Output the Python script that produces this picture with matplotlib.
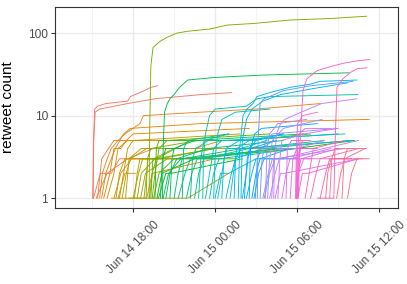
"""Retweet cascades over time, one line per original tweet (log count)."""
import matplotlib
matplotlib.use("Agg")
import matplotlib.dates as mdates
import matplotlib.pyplot as plt
import numpy as np
import pandas as pd

# hours after Jun 14 00:00, cumulative retweet count
early_red_orange = [
    ([15.05, 15.10, 15.18, 15.40, 16.00, 17.60, 17.80, 18.80, 19.30, 19.80], [1, 5, 12, 13, 14, 15, 17, 20, 22, 23]),
    ([15.07, 15.12, 15.22, 15.55, 17.60, 19.60, 23.00, 25.20], [1, 5, 11, 12, 14, 16, 18, 19]),
    ([15.10, 15.60, 16.40, 17.00, 22.00, 29.00], [1, 2, 2, 3, 3, 4]),
    ([15.30, 16.10, 17.60, 19.50], [1, 2, 3, 4]),
    ([15.40, 15.70, 16.20, 16.60, 18.00], [1, 3, 4, 5, 5]),
    ([15.55, 15.75, 16.10, 16.40, 16.90, 17.40, 18.50, 18.75, 22.90, 27.00, 31.70], [1, 2, 3, 4, 5, 6, 8, 10, 11, 12, 14]),
    ([15.70, 16.00, 16.40, 16.70, 17.30, 17.80, 22.90, 35.30], [1, 2, 3, 4, 6, 7, 8, 9]),
    ([15.85, 16.30, 16.60, 17.10, 17.50, 18.00, 26.50], [1, 2, 4, 4, 5, 6, 7]),
    ([16.10, 16.60, 16.90, 17.60, 20.50], [1, 2, 4, 5, 5]),
    ([16.40, 19.00, 19.40, 24.00], [1, 1, 2, 3]),
    ([16.60, 17.10, 17.90, 21.50], [1, 2, 3, 3]),
    ([16.75, 17.00, 17.40, 19.80], [1, 2, 3, 3]),
    ([16.90, 17.40, 18.20], [1, 2, 2]),
]

olive_green = [
    ([17.00, 17.30, 17.60, 18.00, 25.80], [1, 2, 4, 5, 6]),
    ([17.20, 17.50, 17.80, 19.00, 22.50, 24.50], [1, 2, 3, 4, 4, 5]),
    ([17.45, 17.70, 18.60, 31.30], [1, 3, 4, 4]),
    ([17.70, 22.00, 25.00], [1, 1, 2]),
    ([18.00, 18.40, 18.70, 19.50, 21.00], [1, 2, 3, 3, 4]),
    ([18.10, 18.30, 18.50, 21.50], [1, 2, 3, 3]),
    ([18.30, 18.60, 19.60, 24.00], [1, 2, 3, 4]),
    ([18.55, 18.90, 20.50], [1, 2, 3]),
    ([18.80, 19.10, 19.60], [1, 3, 3]),
    ([18.95, 19.05, 19.30, 22.80], [1, 3, 4, 5]),
    ([19.17, 19.22, 19.30, 19.46, 20.00, 20.49, 21.22, 21.95, 23.63, 24.88, 26.90, 29.50, 32.40, 35.10],
     [1, 8, 40, 67, 80, 89, 100, 105, 112, 125, 131, 144, 150, 160]),
    ([19.20, 19.40, 19.70, 22.20, 26.20, 31.00], [1, 2, 3, 5, 5, 6]),
    ([19.30, 19.45, 20.00, 24.00], [1, 3, 3, 4]),
    ([19.40, 19.60, 19.90, 20.50, 28.00], [1, 2, 4, 5, 6]),
    ([19.50, 19.90, 21.00, 25.50], [1, 2, 3, 3]),
    ([19.60, 19.70, 19.90, 23.00], [1, 4, 5, 5]),
    ([19.75, 20.10, 22.50, 30.00, 34.20], [1, 2, 3, 4, 5]),
    ([19.85, 20.40, 20.80, 26.00], [1, 2, 2, 3]),
    ([20.00, 20.15, 20.40, 22.00], [1, 3, 4, 4]),
    ([20.15, 20.20, 20.30, 20.50, 20.70, 21.00, 21.40, 22.00, 24.00, 27.50, 33.80], [1, 4, 11, 14, 16, 18, 22, 27, 29, 31, 33]),
    ([20.20, 20.60, 21.50, 29.00], [1, 2, 3, 4]),
    ([20.40, 20.70, 21.20, 23.50, 29.00], [1, 2, 3, 4, 5]),
    ([20.70, 20.85, 21.00, 22.50, 30.50], [1, 3, 4, 5, 6]),
    ([21.00, 21.30, 21.60, 26.00, 34.20], [1, 2, 3, 4, 5]),
    ([21.30, 21.80, 22.20, 24.50], [1, 2, 3, 3]),
    ([21.60, 21.70, 22.00, 25.00], [1, 4, 5, 6]),
    ([21.90, 22.30, 22.70, 28.50], [1, 2, 3, 4]),
    ([22.20, 22.35, 22.60, 23.50, 27.00], [1, 3, 4, 5, 5]),
    ([22.50, 22.80, 23.20, 26.50, 32.00], [1, 2, 3, 4, 5]),
    ([22.80, 22.95, 23.20, 25.00], [1, 3, 5, 6]),
]

teal_blue = [
    ([23.10, 23.15, 23.30, 23.60, 24.00, 26.30, 26.80, 27.10, 28.00, 34.46], [1, 3, 6, 10, 12, 13, 15, 16, 17, 18]),
    ([23.30, 23.60, 23.90, 24.50, 33.50], [1, 2, 4, 5, 6]),
    ([23.60, 23.90, 24.30, 30.00], [1, 2, 3, 4]),
    ([23.90, 24.00, 24.20, 24.50, 25.50, 28.00], [1, 3, 6, 9, 11, 12]),
    ([24.00, 24.40, 25.00, 27.00], [1, 2, 2, 3]),
    ([24.20, 24.50, 24.80, 25.80, 33.00], [1, 2, 4, 5, 6]),
    ([24.50, 24.65, 24.90, 26.00], [1, 3, 4, 4]),
    ([24.80, 25.20, 25.50, 27.50, 34.00], [1, 2, 3, 4, 5]),
    ([25.10, 25.35, 25.60, 26.50, 29.00], [1, 2, 4, 5, 6]),
    ([25.40, 25.50, 25.90, 27.80], [1, 3, 4, 5]),
    ([25.70, 25.80, 26.05, 26.34, 26.78, 27.07, 28.00, 29.50, 30.95, 31.68, 34.39], [1, 4, 10, 12, 14, 17, 19, 22, 24, 26, 27]),
    ([25.90, 26.00, 26.30, 26.70, 27.50, 28.80, 31.00, 33.73], [1, 5, 9, 12, 15, 18, 21, 25]),
]

blue_purple = [
    ([26.00, 26.30, 26.50, 27.00, 29.00], [1, 2, 4, 5, 6]),
    ([26.15, 26.35, 26.60, 28.50], [1, 3, 4, 5]),
    ([26.30, 26.70, 27.00, 30.00], [1, 2, 3, 3]),
    ([26.50, 26.60, 26.90, 27.40, 31.50], [1, 4, 6, 7, 8]),
    ([26.70, 27.00, 27.30, 29.50], [1, 2, 3, 4]),
    ([26.85, 27.20, 27.60, 29.00], [1, 2, 3, 3]),
    ([26.95, 27.10, 27.40, 28.30], [1, 3, 4, 5]),
    ([27.10, 27.15, 27.30, 27.60, 28.98, 31.00, 34.10], [1, 5, 14, 16, 20, 23, 26]),
    ([27.30, 27.45, 27.70, 28.20, 33.00], [1, 3, 5, 6, 7]),
    ([27.50, 27.90, 28.20, 31.00], [1, 2, 3, 3]),
    ([27.60, 28.00, 28.40, 33.50], [1, 2, 3, 4]),
    ([27.70, 27.80, 28.00, 28.60, 30.70], [1, 4, 6, 8, 9]),
    ([27.85, 28.00, 28.20, 29.00, 31.83], [1, 3, 5, 7, 9]),
    ([28.00, 28.40, 28.70, 32.00, 34.50], [1, 2, 3, 4, 5]),
    ([28.15, 28.30, 28.50, 30.00], [1, 3, 4, 4]),
    ([28.30, 28.35, 28.50, 28.80, 29.10, 30.30, 31.80, 34.39], [1, 3, 6, 8, 9, 11, 14, 16]),
    ([28.40, 28.80, 29.10, 34.50], [1, 2, 2, 3]),
    ([28.60, 28.75, 28.90, 30.50, 33.00], [1, 3, 5, 6, 7]),
    ([28.90, 29.20, 29.50, 32.50], [1, 2, 3, 4]),
    ([29.20, 29.30, 29.60, 30.50], [1, 4, 5, 5]),
    ([29.50, 29.70, 30.00, 32.00], [1, 3, 4, 5]),
    ([29.90, 29.95, 30.05, 30.40, 31.50], [1, 4, 8, 10, 11]),
]

magenta_pink = [
    ([29.92, 30.00, 30.20, 31.50], [1, 3, 4, 4]),
    ([29.95, 30.05, 30.30, 33.00], [1, 2, 3, 4]),
    ([29.98, 30.05, 30.15, 30.60, 32.50], [1, 4, 6, 7, 7]),
    ([30.00, 30.10, 30.50, 34.00], [1, 2, 3, 3]),
    ([30.03, 30.12, 30.40, 31.00], [1, 3, 5, 5]),
    ([30.06, 30.40, 30.80, 34.50], [1, 2, 2, 3]),
    ([30.10, 30.20, 30.44, 30.73, 31.46, 32.41, 33.37, 34.39, 35.34], [1, 4, 20, 28, 35, 39, 43, 46, 48]),
    ([30.60, 30.90, 31.20, 33.50], [1, 2, 4, 5]),
    ([31.00, 31.40, 31.70, 34.50], [1, 2, 3, 4]),
    ([31.50, 32.70, 32.80, 32.93, 33.37, 33.88, 34.39, 35.12], [1, 1, 5, 22, 28, 33, 37, 38]),
    ([31.70, 32.10, 32.40, 34.80], [1, 2, 3, 3]),
    ([32.10, 32.25, 32.50, 34.00], [1, 2, 3, 3]),
    ([32.40, 32.55, 32.80, 34.00], [1, 3, 4, 4]),
    ([32.90, 33.20, 33.50, 35.00], [1, 2, 3, 4]),
    ([33.30, 33.45, 33.70, 35.10], [1, 3, 4, 4]),
    ([33.70, 34.00, 34.40, 35.30], [1, 2, 3, 3]),
]

BASE = pd.Timestamp("2018-06-14")


def hue_pal(n, h0=15, h1=375, c=100.0, l=65.0):
    """ggplot2-style hue palette (HCL -> sRGB)."""
    Xn, Yn, Zn = 0.95047, 1.0, 1.08883
    un = 4 * Xn / (Xn + 15 * Yn + 3 * Zn)
    vn = 9 * Yn / (Xn + 15 * Yn + 3 * Zn)
    M = np.array([[3.2404542, -1.5371385, -0.4985314],
                  [-0.9692660, 1.8760108, 0.0415560],
                  [0.0556434, -0.2040259, 1.0572252]])
    cols = []
    for h in np.linspace(h0, h1, n + 1)[:n]:
        hr = np.deg2rad(h)
        u, v = c * np.cos(hr), c * np.sin(hr)
        Y = ((l + 16) / 116) ** 3
        up, vp = u / (13 * l) + un, v / (13 * l) + vn
        X = Y * 9 * up / (4 * vp)
        Z = Y * (12 - 3 * up - 20 * vp) / (4 * vp)
        lin = M @ np.array([X, Y, Z])
        rgb = np.where(lin <= 0.0031308, 12.92 * lin, 1.055 * np.abs(lin) ** (1 / 2.4) - 0.055)
        cols.append(np.clip(rgb, 0, 1))
    return cols


cascades = early_red_orange + olive_green + teal_blue + blue_purple + magenta_pink
cascades = sorted(cascades, key=lambda c: c[0][0])
colors = hue_pal(len(cascades))

plt.rcParams["font.family"] = ["Liberation Sans", "DejaVu Sans"]
fig = plt.figure(figsize=(4.07, 2.84), dpi=100)
ax = fig.add_axes([55 / 407, 1 - 208 / 284, 343 / 407, 201 / 284])

for (hours, counts), col in zip(cascades, colors):
    t = BASE + pd.to_timedelta(hours, unit="h")
    ax.plot(t, counts, color=col, lw=0.65)

ax.set_yscale("log")
ax.set_ylim(0.76, 207)
ax.set_yticks([1, 10, 100])
ax.set_yticklabels(["1", "10", "100"])
ax.yaxis.set_minor_locator(matplotlib.ticker.NullLocator())

ax.set_xlim(BASE + pd.Timedelta(hours=12.28), BASE + pd.Timedelta(hours=37.4))
ax.xaxis.set_major_locator(mdates.HourLocator(byhour=[0, 6, 12, 18]))
ax.xaxis.set_minor_locator(mdates.HourLocator(byhour=[3, 9, 15, 21]))
ax.xaxis.set_major_formatter(mdates.DateFormatter("%b %d %H:%M"))

ax.set_axisbelow(True)
ax.grid(which="major", color="#EBEBEB", lw=1.0)
ax.grid(which="minor", axis="x", color="#F2F2F2", lw=0.6)
for s in ax.spines.values():
    s.set_color("#333333")
    s.set_linewidth(0.8)
ax.tick_params(which="major", length=2.75, width=0.8, color="#333333",
               labelcolor="#4D4D4D", labelsize=8.6)
ax.tick_params(axis="y", pad=2.2)
ax.tick_params(axis="x", pad=5)
ax.tick_params(which="minor", length=0)
for lab in ax.get_xticklabels():
    lab.set_rotation(45)
    lab.set_ha("center")
    lab.set_va("top")

ax.set_ylabel("retweet count", fontsize=11, color="black")
ax.yaxis.set_label_coords(-0.117, 0.5)

fig.savefig("out.png", dpi=100)
